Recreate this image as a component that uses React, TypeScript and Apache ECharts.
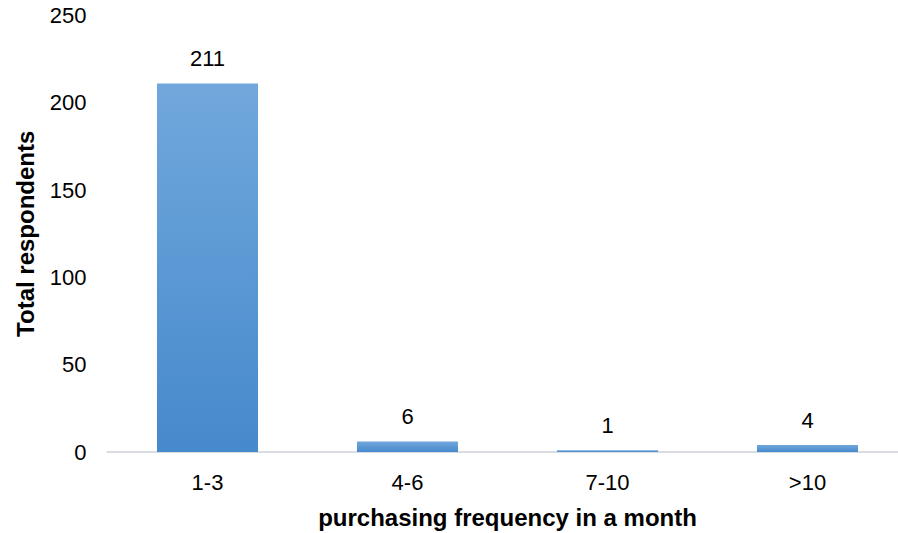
import React, { useEffect, useRef } from "react";
import * as echarts from "echarts";

const categories = ["1-3", "4-6", "7-10", ">10"];
const respondents = [211, 6, 1, 4];
const yTicks = { min: 0, max: 250, interval: 50 };
const xAxisTitle = "purchasing frequency in a month";
const yAxisTitle = "Total respondents";

const FONT = "'Liberation Sans', Arial, sans-serif";

export default function App() {
  const ref = useRef<HTMLDivElement>(null);
  useEffect(() => {
    if (!ref.current) return;
    const chart = echarts.init(ref.current, undefined, { renderer: "svg" });
    chart.setOption({
      animation: false,
      backgroundColor: "#ffffff",
      textStyle: { fontFamily: FONT },
      grid: {
        left: 107.5,
        right: -9.5,
        top: 15.5,
        bottom: 81,
        containLabel: false,
        outerBoundsMode: "none",
      },
      xAxis: {
        type: "category",
        data: categories,
        name: xAxisTitle,
        nameLocation: "middle",
        nameGap: 53,
        nameTextStyle: { fontFamily: FONT, fontSize: 24, fontWeight: "bold", color: "#000" },
        axisLine: { show: true, lineStyle: { color: "#d9dce1", width: 2 } },
        axisTick: { show: false },
        axisLabel: { fontFamily: FONT, fontSize: 22, color: "#000", margin: 19 },
      },
      yAxis: {
        type: "value",
        min: yTicks.min,
        max: yTicks.max,
        interval: yTicks.interval,
        name: yAxisTitle,
        nameLocation: "middle",
        nameGap: 70,
        nameTextStyle: { fontFamily: FONT, fontSize: 24, fontWeight: "bold", color: "#000" },
        axisLine: { show: false },
        axisTick: { show: false },
        splitLine: { show: false },
        axisLabel: { fontFamily: FONT, fontSize: 22, color: "#000", margin: 21 },
      },
      series: [
        {
          type: "bar",
          data: respondents,
          barCategoryGap: "49.5%",
          itemStyle: {
            color: new echarts.graphic.LinearGradient(0, 0, 0, 1, [
              { offset: 0, color: "#71a8dc" },
              { offset: 1, color: "#4689cc" },
            ]),
          },
          label: {
            show: true,
            position: "top",
            distance: 14,
            fontFamily: FONT,
            fontSize: 22,
            color: "#000",
          },
        },
      ],
    });
    return () => chart.dispose();
  }, []);
  return (
    <div
      ref={ref}
      style={{ position: "fixed", left: 0, top: 0, width: 898, height: 533 }}
    />
  );
}
